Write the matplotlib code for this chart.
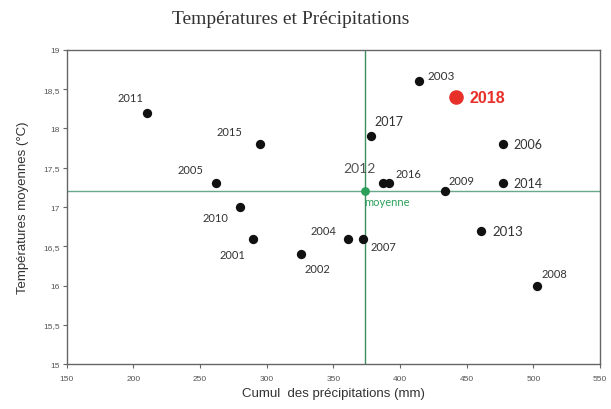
import matplotlib
matplotlib.use("Agg")
import matplotlib.pyplot as plt
from matplotlib.ticker import FuncFormatter, MultipleLocator

# Données : cumul des précipitations (mm) et température moyenne (°C)
annees = ["2001", "2002", "2003", "2004", "2005", "2006", "2007", "2008", "2009",
          "2010", "2011", "2012", "2013", "2014", "2015", "2016", "2017"]
precip = [290, 326, 414, 361, 262, 477, 372, 503, 434,
          280, 210, 387, 461, 477, 295, 392, 378]
temp = [16.6, 16.4, 18.6, 16.6, 17.3, 17.8, 16.6, 16.0, 17.2,
        17.0, 18.2, 17.3, 16.7, 17.3, 17.8, 17.3, 17.9]

annee_2018 = "2018"
precip_2018 = 442
temp_2018 = 18.4

moy_precip = 374
moy_temp = 17.2

# position des étiquettes (décalage en points, alignement)
etiquettes = {
    "2001": (-15, -11.5, "center"), "2002": (11.5, -10, "center"),
    "2003": (16, 4.3, "center"), "2004": (-18, 5.8, "center"),
    "2005": (-18, 10, "center"), "2006": (8, 0, "left"),
    "2007": (15, -5.8, "center"), "2008": (12, 8.6, "center"),
    "2009": (2, 8, "left"), "2010": (-18, -7.2, "center"),
    "2011": (-11.5, 10.8, "center"), "2012": (-16.5, 11.5, "center"),
    "2013": (8, 0, "left"), "2014": (8, 0, "left"),
    "2015": (-22, 9.4, "center"), "2016": (4.3, 7.2, "left"),
    "2017": (13, 10.8, "center"),
}
tailles = {"2012": 10, "2013": 9.5, "2017": 9, "2006": 9, "2014": 9, "2003": 8.5}

vert = "#3d8f5f"
gris = "#333333"

fig = plt.figure(figsize=(6.11, 4.10), dpi=100)
ax = fig.add_axes([0.109, 0.109, 0.873, 0.767])

ax.axvline(moy_precip, color=vert, lw=1.0, zorder=1)
ax.axhline(moy_temp, color="#6aa88a", lw=1.0, zorder=1)

ax.scatter(precip, temp, s=45, color="#111111", zorder=3, linewidths=0)
ax.scatter([precip_2018], [temp_2018], s=110, color="#e8302a", zorder=3, linewidths=0)
ax.scatter([moy_precip], [moy_temp], s=40, color="#2ca05a", zorder=4, linewidths=0)

for a, x, y in zip(annees, precip, temp):
    dx, dy, ha = etiquettes[a]
    couleur = "#555555" if a == "2012" else gris
    ax.annotate(a, (x, y), xytext=(dx, dy), textcoords="offset points",
                ha=ha, va="center", fontsize=tailles.get(a, 8),
                color=couleur, family="Lato")

ax.annotate(annee_2018, (precip_2018, temp_2018), xytext=(9.4, 0),
            textcoords="offset points", ha="left", va="center",
            fontsize=11.5, fontweight="bold", color="#e8302a", family="Liberation Sans")
ax.annotate("moyenne", (moy_precip, moy_temp), xytext=(-1, -7.5),
            textcoords="offset points", ha="left", va="center",
            fontsize=8, color="#2ca05a", family="Lato")

ax.set_xlim(150, 550)
ax.set_ylim(15, 19)
ax.xaxis.set_major_locator(MultipleLocator(50))
ax.yaxis.set_major_locator(MultipleLocator(0.5))
ax.yaxis.set_major_formatter(FuncFormatter(lambda v, p: f"{v:g}".replace(".", ",")))

for s in ax.spines.values():
    s.set_color("#666666")
    s.set_linewidth(1.0)
ax.tick_params(direction="out", length=3, width=0.8, color="#666666",
               labelsize=6, labelcolor="#555555", pad=2)
ax.tick_params(axis="x", pad=5)
for lab in ax.get_xticklabels() + ax.get_yticklabels():
    lab.set_family("Liberation Sans")

ax.set_xlabel("Cumul  des précipitations (mm)", fontsize=9.5, color="#333333",
              family="Liberation Sans", labelpad=3)
ax.set_ylabel("Températures moyennes (°C)", fontsize=9.5, color="#333333",
              family="Liberation Sans", labelpad=10)

fig.text(0.476, 0.952, "Températures et Précipitations", ha="center", va="center",
         fontsize=14, color="#333333", family="Liberation Serif")

fig.savefig("out.png", dpi=100)
